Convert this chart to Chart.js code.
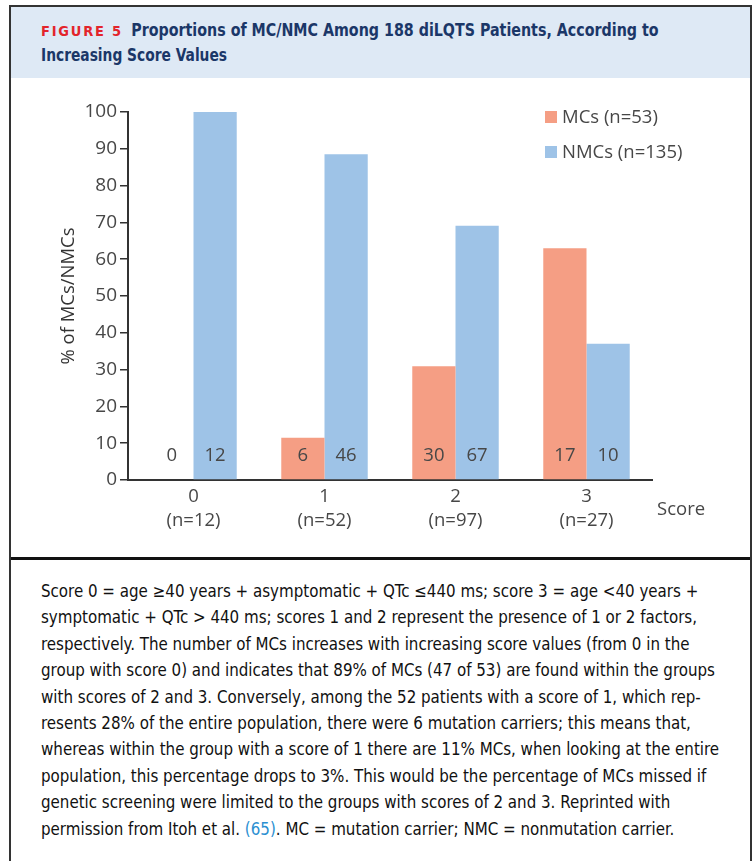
<!DOCTYPE html>
<html>
<head>
<meta charset="utf-8">
<script src="https://cdn.jsdelivr.net/npm/chart.js@4.4.1/dist/chart.umd.min.js"></script>
<style>
  html, body { margin: 0; padding: 0; background: #fff; }
  #page { position: relative; width: 756px; height: 861px; overflow: hidden; background: #fff; }
  #frame { position: absolute; left: 9px; top: 5px; width: 739px; height: 900px;
           border: 2px solid #333; border-bottom: none; }
  #header { position: absolute; left: 11px; top: 7px; width: 739px; height: 71px; background: #dee9f5; }
  .hline { position: absolute; left: 41px; white-space: nowrap; font-family: 'Liberation Sans Narrow', 'DejaVu Sans Condensed', sans-serif;
           font-weight: bold; font-size: 17px; color: #1b3768; transform-origin: 0 50%; }
  .fig { color: #e3242b; font-family: 'DejaVu Sans', sans-serif; font-size: 14px; letter-spacing: 1.9px; margin-right: 9px; }
  #rule { position: absolute; left: 11px; top: 557px; width: 739px; height: 3px; background: #111; }
  #chartBox { position: absolute; left: 11px; top: 80px; width: 738px; height: 477px; }
  #caption { position: absolute; left: 41px; top: 578px; font-family: 'Liberation Sans Narrow', 'DejaVu Sans Condensed', sans-serif;
             font-size: 17px; line-height: 26.4px; color: #111; }
  #caption div { white-space: nowrap; transform-origin: 0 50%; }
  .cite { color: #2b8fd1; }
</style>
</head>
<body>
<div id="page">
  <div id="header"></div>
  <div id="frame"></div>
  <div class="hline" id="t1" style="top:20px"><span class="fig">FIGURE 5</span>Proportions of MC/NMC Among 188 diLQTS Patients, According to</div>
  <div class="hline" id="t2" style="top:45px">Increasing Score Values</div>
  <div id="chartBox"><canvas id="chart" width="738" height="477"></canvas></div>
  <div id="rule"></div>
  <div id="caption">
    <div>Score 0 = age ≥40 years + asymptomatic + QTc ≤440 ms; score 3 = age &lt;40 years +</div>
    <div>symptomatic + QTc &gt; 440 ms; scores 1 and 2 represent the presence of 1 or 2 factors,</div>
    <div>respectively. The number of MCs increases with increasing score values (from 0 in the</div>
    <div>group with score 0) and indicates that 89% of MCs (47 of 53) are found within the groups</div>
    <div>with scores of 2 and 3. Conversely, among the 52 patients with a score of 1, which rep-</div>
    <div>resents 28% of the entire population, there were 6 mutation carriers; this means that,</div>
    <div>whereas within the group with a score of 1 there are 11% MCs, when looking at the entire</div>
    <div>population, this percentage drops to 3%. This would be the percentage of MCs missed if</div>
    <div>genetic screening were limited to the groups with scores of 2 and 3. Reprinted with</div>
    <div>permission from Itoh et al. <span class="cite">(65)</span>. MC = mutation carrier; NMC = nonmutation carrier.</div>
  </div>
</div>
<script>
// Score groups and their sizes
const scores = ['0', '1', '2', '3'];
const groupSizes = ['(n=12)', '(n=52)', '(n=97)', '(n=27)'];

// Share of each score group (%) that are mutation carriers / non-carriers
const mcPercent = [0, 11.5, 30.9, 63.0];
const nmcPercent = [100, 88.5, 69.1, 37.0];

// Patient counts printed on the bars
const mcCounts = [0, 6, 30, 17];
const nmcCounts = [12, 46, 67, 10];

const seriesNames = ['MCs (n=53)', 'NMCs (n=135)'];
const yTicks = [0, 10, 20, 30, 40, 50, 60, 70, 80, 90, 100];

// Fit heading and caption lines to their printed widths
function fit(el, target) {
  const w = el.scrollWidth;
  if (w > 0) el.style.transform = 'scaleX(' + (target / w) + ')';
}
fit(document.getElementById('t1'), 618);
fit(document.getElementById('t2'), 186);
const capLines = document.querySelectorAll('#caption div');
const capScale = (676 + 680 + 679) / (capLines[0].scrollWidth + capLines[3].scrollWidth + capLines[6].scrollWidth);
capLines.forEach(d => d.style.transform = 'scaleX(' + capScale + ')');

const FONT = "'Open Sans', 'Noto Sans', sans-serif";
const TEXT = '#474747';

const countLabels = {
  id: 'countLabels',
  afterDatasetsDraw(chart) {
    const ctx = chart.ctx;
    const counts = [mcCounts, nmcCounts];
    const y0 = chart.scales.y.getPixelForValue(0);
    ctx.save();
    ctx.font = '18.5px ' + FONT;
    ctx.fillStyle = TEXT;
    ctx.textAlign = 'center';
    ctx.textBaseline = 'middle';
    counts.forEach((arr, di) => {
      chart.getDatasetMeta(di).data.forEach((bar, i) => {
        ctx.fillText(String(arr[i]), bar.x, y0 - 24);
      });
    });
    ctx.restore();
  }
};

const sideLegend = {
  id: 'sideLegend',
  afterDraw(chart) {
    const ctx = chart.ctx;
    const x0 = 534, ys = [37, 72];
    ctx.save();
    ctx.font = '18.5px ' + FONT;
    ctx.textBaseline = 'middle';
    chart.data.datasets.forEach((ds, i) => {
      ctx.fillStyle = ds.backgroundColor;
      ctx.fillRect(x0, ys[i] - 6, 12, 12);
      ctx.fillStyle = TEXT;
      ctx.fillText(ds.label, x0 + 17, ys[i] + 1);
    });
    // axis name at the right end of the category axis
    const xs = chart.scales.x;
    ctx.fillText('Score', xs.right + 5, xs.top + 30);
    ctx.restore();
  }
};

new Chart(document.getElementById('chart'), {
  type: 'bar',
  data: {
    labels: scores.map((s, i) => [s, groupSizes[i]]),
    datasets: [
      { label: seriesNames[0], data: mcPercent, backgroundColor: '#f59e84' },
      { label: seriesNames[1], data: nmcPercent, backgroundColor: '#9ec3e7' }
    ]
  },
  options: {
    responsive: false,
    animation: false,
    devicePixelRatio: 1,
    layout: { padding: { left: 47, right: 97, top: 32, bottom: 0 } },
    datasets: { bar: { categoryPercentage: 0.66, barPercentage: 1.0 } },
    plugins: { legend: { display: false }, tooltip: { enabled: false } },
    scales: {
      x: {
        grid: { display: false, drawTicks: false },
        border: { color: '#333', width: 2 },
        ticks: { color: TEXT, font: { family: FONT, size: 18.5, lineHeight: 1.3 }, padding: 5 },
        afterFit(s) { s.height = 77; }
      },
      y: {
        min: 0, max: 100,
        afterBuildTicks(s) { s.ticks = yTicks.map(v => ({ value: v })); },
        grid: { drawOnChartArea: false, drawTicks: true, tickLength: 8, color: '#333', lineWidth: 1.5 },
        border: { color: '#333', width: 2 },
        ticks: { color: TEXT, font: { family: FONT, size: 19 }, padding: 3 },
        title: { display: true, text: '% of MCs/NMCs', color: '#333', font: { family: FONT, size: 18.5 }, padding: { top: 0, bottom: 0 } },
        afterFit(s) { s.width = 70; }
      }
    }
  },
  plugins: [countLabels, sideLegend]
});
</script>
</body>
</html>
